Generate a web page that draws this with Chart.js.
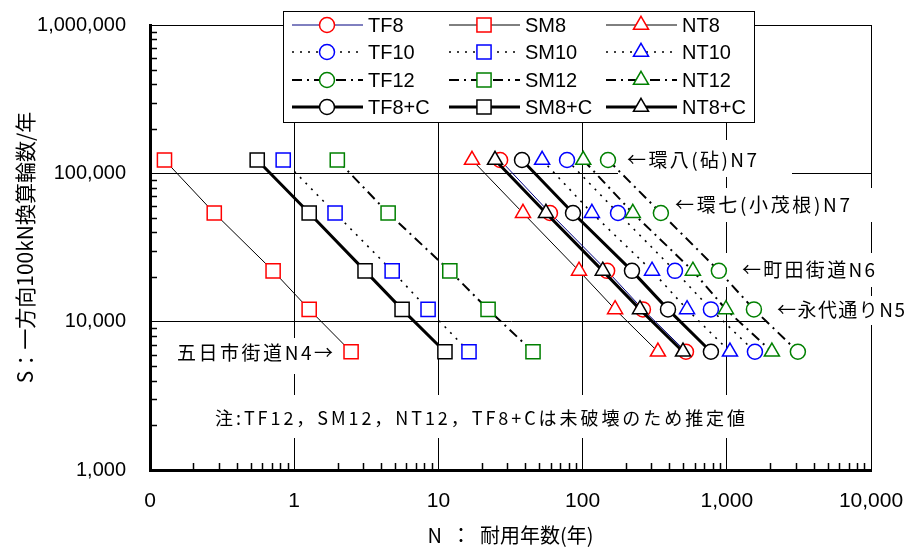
<!DOCTYPE html>
<html>
<head>
<meta charset="utf-8">
<script src="https://cdn.jsdelivr.net/npm/chart.js@4.4.0/dist/chart.umd.min.js"></script>
<style>
  html, body { margin: 0; padding: 0; background: #fff; }
  canvas { display: block; }
</style>
</head>
<body>
<canvas id="chart" width="915" height="550"></canvas>
<script>
// S: 一方向100kN換算輪数/年, roads in order 環八, 環七, 町田街道, 永代通り, 五日市街道
const trafficS = [123000, 54000, 22000, 12100, 6270]

// N: 耐用年数 per specimen, same road order
const tf8 = [26.8, 59.4, 148, 262, 521]
const sm8 = [0.126, 0.279, 0.714, 1.27, 2.48]
const nt8 = [17.1, 38.6, 94.4, 168, 333]
const tf10 = [78.0, 176, 437, 776, 1567]
const sm10 = [0.839, 1.92, 4.78, 8.48, 16.3]
const nt10 = [52.4, 116, 303, 530, 1052]
const tf12 = [150, 349, 881, 1542, 3111]
const sm12 = [1.99, 4.48, 12.0, 22.1, 45.3]
const nt12 = [101, 223, 582, 986, 2055]
const tf8c = [38.0, 85.8, 220, 391, 776]
const sm8c = [0.554, 1.27, 3.10, 5.60, 11.1]
const nt8c = [24.7, 55.7, 138, 250, 497]

const seriesNames = ["TF8", "SM8", "NT8", "TF10", "SM10", "NT10", "TF12", "SM12", "NT12", "TF8+C", "SM8+C", "NT8+C"]
const seriesValues = [tf8, sm8, nt8, tf10, sm10, nt10, tf12, sm12, nt12, tf8c, sm8c, nt8c]

const xTicks = [0.1, 1, 10, 100, 1000, 10000]
const yTicks = [1000, 10000, 100000, 1000000]

// styles: column = specimen type (marker), row = grade (color / line)
const shapes = [
  { pointStyle: "circle", radius: 7.5 },
  { pointStyle: "rect", radius: 10 },
  { pointStyle: "triangle", radius: 8.7 }
]
const rows = [
  { marker: "#ff0000", line: "#000000", width: 1, dash: [] },
  { marker: "#0000ff", line: "#000000", width: 1.6, dash: [2, 6] },
  { marker: "#008000", line: "#000000", width: 2, dash: [10, 5, 2, 5] },
  { marker: "#000000", line: "#000000", width: 3, dash: [] }
]

function styleFor(i) {
  const row = rows[Math.floor(i / 3)]
  const shape = shapes[i % 3]
  const line = i === 0 ? "#000080" : row.line
  return { ...shape, marker: row.marker, line, width: row.width, dash: row.dash }
}

const datasets = seriesNames.map((name, i) => {
  const st = styleFor(i)
  return {
    label: name,
    data: seriesValues[i].map((n, k) => ({ x: n, y: trafficS[k] })),
    showLine: true,
    borderColor: st.line,
    borderWidth: st.width,
    borderDash: st.dash,
    pointStyle: st.pointStyle,
    pointRadius: st.radius,
    pointHoverRadius: st.radius,
    pointBorderColor: st.marker,
    pointBackgroundColor: "#ffffff",
    pointBorderWidth: 1.5,
    pointHoverBorderWidth: 1.5,
    order: -i
  }
})

const notes = [
  { text: "←環八(砧)N7", x: 627, y: 160, w: 130, box: [618, 140, 792, 177] },
  { text: "←環七(小茂根)N7", x: 675, y: 205, w: 175, box: [660, 188, 877, 222] },
  { text: "←町田街道N6", x: 742, y: 270, w: 133, box: [724, 253, 890, 287] },
  { text: "←永代通りN5", x: 777, y: 310, w: 128, box: [766, 296, 915, 325] },
  { text: "五日市街道N4→", x: 177, y: 353, w: 156, box: [168, 338, 346, 374] },
  { text: "注:TF12，SM12，NT12，TF8+Cは未破壊のため推定値", x: 215, y: 418, w: 530, box: [205, 395, 756, 438] }
]

const JP = "'Noto Sans CJK JP', 'Noto Sans', sans-serif"
const LAT = "'Liberation Sans', Arial, sans-serif"

function fitText(ctx, text, x, y, width) {
  ctx.letterSpacing = "0px"
  const w = ctx.measureText(text).width
  const n = Array.from(text).length
  const ls = n > 1 ? (width - w) / (n - 1) : 0
  ctx.letterSpacing = ls + "px"
  ctx.textAlign = "left"
  ctx.textBaseline = "middle"
  ctx.fillText(text, x, y)
  ctx.letterSpacing = "0px"
}

const decorations = {
  id: "decorations",
  beforeDatasetsDraw(chart) {
    const { ctx, chartArea } = chart
    const xs = chart.scales.x
    const ys = chart.scales.y
    ctx.save()
    // minor ticks inside the axes
    ctx.strokeStyle = "#000"
    ctx.lineWidth = 1.5
    ctx.setLineDash([])
    ctx.beginPath()
    for (const d of [0.1, 1, 10, 100, 1000]) {
      for (let m = 2; m <= 9; m++) {
        const px = Math.round(xs.getPixelForValue(m * d)) + 0.5
        ctx.moveTo(px, chartArea.bottom)
        ctx.lineTo(px, chartArea.bottom - 7)
      }
    }
    for (const d of [1000, 10000, 100000]) {
      for (let m = 2; m <= 9; m++) {
        const py = Math.round(ys.getPixelForValue(m * d)) + 0.5
        ctx.moveTo(chartArea.left, py)
        ctx.lineTo(chartArea.left + 7, py)
      }
    }
    ctx.stroke()

    // text boxes
    ctx.fillStyle = "#fff"
    for (const n of notes) {
      const [x1, y1, x2, y2] = n.box
      ctx.fillRect(x1, y1, x2 - x1, y2 - y1)
    }
    ctx.fillStyle = "#000"
    for (const n of notes) {
      ctx.font = (n.w > 300 ? "18px " : "19px ") + JP
      fitText(ctx, n.text, n.x, n.y, n.w)
    }
    ctx.restore()
  },
  afterDraw(chart) {
    const ctx = chart.ctx
    const drawPoint = Chart.helpers.drawPoint
    ctx.save()
    ctx.fillStyle = "#fff"
    ctx.fillRect(283, 11, 472, 112)
    ctx.strokeStyle = "#000"
    ctx.lineWidth = 1
    ctx.setLineDash([])
    ctx.strokeRect(283.5, 11.5, 471, 111)

    const colX = [292, 449, 606]
    const rowY = [25, 52, 80, 107]
    seriesNames.forEach((name, i) => {
      const st = styleFor(i)
      const x0 = colX[i % 3]
      const y = rowY[Math.floor(i / 3)]
      ctx.strokeStyle = st.line
      ctx.lineWidth = st.width
      ctx.setLineDash(st.dash)
      ctx.beginPath()
      ctx.moveTo(x0, y)
      ctx.lineTo(x0 + 71, y)
      ctx.stroke()
      ctx.setLineDash([])
      ctx.strokeStyle = st.marker
      ctx.fillStyle = "#fff"
      ctx.lineWidth = 1.5
      drawPoint(ctx, { pointStyle: st.pointStyle, radius: st.radius, borderWidth: 1.5, rotation: 0 }, x0 + 35, y)
      ctx.fillStyle = "#000"
      ctx.font = "20px " + LAT
      ctx.textAlign = "left"
      ctx.textBaseline = "middle"
      ctx.fillText(name, x0 + 76, y + 1)
    })
    ctx.restore()
  }
}

new Chart(document.getElementById("chart"), {
  type: "scatter",
  data: { datasets },
  options: {
    responsive: false,
    animation: false,
    events: [],
    layout: { padding: { left: 0, right: 44, top: 25, bottom: 0 } },
    plugins: {
      legend: { display: false },
      tooltip: { enabled: false }
    },
    scales: {
      x: {
        type: "logarithmic",
        min: 0.1,
        max: 10000,
        afterBuildTicks: (s) => { s.ticks = xTicks.map((v) => ({ value: v })) },
        afterFit: (s) => {
          s.height = 80
          s.paddingLeft = 0
          s.paddingRight = 0
        },
        grid: { color: "#000", lineWidth: 1, drawTicks: false },
        border: { color: "#000", width: 3 },
        ticks: {
          color: "#000",
          autoSkip: false,
          maxRotation: 0,
          padding: 19,
          font: { family: "'Liberation Sans Narrow', 'Liberation Sans', sans-serif", size: 21 },
          callback: (v) => (v < 1 ? "0" : Number(v).toLocaleString("en-US"))
        },
        title: {
          display: true,
          text: "N  ：  耐用年数(年)",
          color: "#000",
          font: { family: JP, size: 20 },
          padding: { top: 0, bottom: 3 }
        }
      },
      y: {
        type: "logarithmic",
        min: 1000,
        max: 1000000,
        afterBuildTicks: (s) => { s.ticks = yTicks.map((v) => ({ value: v })) },
        afterFit: (s) => {
          s.width = 150
          s.paddingTop = 0
          s.paddingBottom = 0
        },
        grid: { color: "#000", lineWidth: 1, drawTicks: false },
        border: { color: "#000", width: 3 },
        ticks: {
          color: "#000",
          padding: 24,
          font: { family: LAT, size: 20 },
          callback: (v) => Number(v).toLocaleString("en-US")
        },
        title: {
          display: true,
          text: "S：一方向100kN換算輪数/年",
          color: "#000",
          font: { family: JP, size: 21 },
          padding: { top: 12, bottom: 0 }
        }
      }
    }
  },
  plugins: [decorations]
})
</script>
</body>
</html>
